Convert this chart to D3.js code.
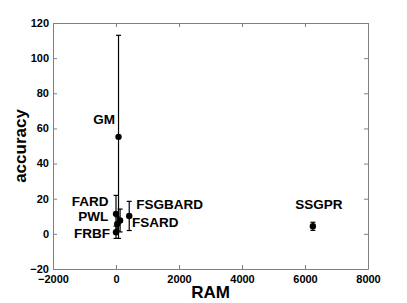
<!DOCTYPE html>
<html>
<head>
<meta charset="utf-8">
<script src="https://cdn.jsdelivr.net/npm/d3@7"></script>
<style>
  body { margin: 0; background: #fff; }
  text { font-family: "Liberation Sans", Arial, sans-serif; font-weight: bold; fill: #000; }
</style>
</head>
<body>
<div id="chart"></div>
<script>
// values
const methods  = ["GM", "FARD", "PWL", "FRBF", "FSGBARD", "FSARD", "SSGPR"];
const ram      = [80, 0, 40, 0, 420, 130, 6250];
const accuracy = [55.2, 11.4, 5.7, 0.9, 10.2, 7.6, 4.3];
const errBar   = [57.8, 10.5, 4, 3.5, 8.3, 6.5, 2.3];

const xTicks = [-2000, 0, 2000, 4000, 6000, 8000];
const yTicks = [-20, 0, 20, 40, 60, 80, 100, 120];

// label placement (pixels relative to the point)
const labelPos = {
  GM:      { dx: -3.5, dy: -18, anchor: "end" },
  FARD:    { dx: -7.5, dy: -13, anchor: "end" },
  PWL:     { dx: -9,   dy: -8,  anchor: "end" },
  FRBF:    { dx: -6,   dy: 1,   anchor: "end" },
  FSGBARD: { dx: 7,    dy: -12, anchor: "start" },
  FSARD:   { dx: 12,   dy: 2,   anchor: "start" },
  SSGPR:   { dx: 6,    dy: -22, anchor: "middle" }
};

const data = methods.map((m, i) => ({ name: m, ram: ram[i], acc: accuracy[i], err: errBar[i] }));

const width = 407, height = 303;
const margin = { top: 23, right: 39, bottom: 34, left: 53 };

const svg = d3.select("#chart").append("svg")
    .attr("width", width)
    .attr("height", height);

const x = d3.scaleLinear().domain([-2000, 8000]).range([margin.left, width - margin.right]);
const y = d3.scaleLinear().domain([-20, 120]).range([height - margin.bottom, margin.top]);

const axisColor = "#808080";
const tick = 4;

// bottom + top axes, ticks pointing inward (matlab box)
const xb = svg.append("g")
    .attr("transform", `translate(0,${y(-20)})`)
    .call(d3.axisBottom(x).tickValues(xTicks).tickSize(-tick).tickSizeOuter(0).tickPadding(5).tickFormat(d3.format("d")));
const xt = svg.append("g")
    .attr("transform", `translate(0,${y(120)})`)
    .call(d3.axisTop(x).tickValues(xTicks).tickSize(-tick).tickSizeOuter(0).tickFormat(""));
const yl = svg.append("g")
    .attr("transform", `translate(${x(-2000)},0)`)
    .call(d3.axisLeft(y).tickValues(yTicks).tickSize(-tick).tickSizeOuter(0).tickPadding(4).tickFormat(d3.format("d")));
const yr = svg.append("g")
    .attr("transform", `translate(${x(8000)},0)`)
    .call(d3.axisRight(y).tickValues(yTicks).tickSize(-tick).tickSizeOuter(0).tickFormat(""));

[xb, xt, yl, yr].forEach(g => {
  g.selectAll("path, line").attr("stroke", axisColor);
  g.selectAll("text").style("font-size", "11px").attr("fill", "#000").style("font-weight", "bold");
});
yl.selectAll(".tick text").attr("dy", "0.3em");
xb.selectAll(".tick text").attr("dy", "0.78em");

// error bars
const cap = 2.5;
const bars = svg.append("g").attr("stroke", "#000").attr("stroke-width", 1.2);
bars.selectAll(".eb").data(data).join("line")
    .attr("x1", d => x(d.ram)).attr("x2", d => x(d.ram))
    .attr("y1", d => y(d.acc - d.err)).attr("y2", d => y(d.acc + d.err));
bars.selectAll(".capTop").data(data).join("line")
    .attr("x1", d => x(d.ram) - cap).attr("x2", d => x(d.ram) + cap)
    .attr("y1", d => y(d.acc + d.err)).attr("y2", d => y(d.acc + d.err));
bars.selectAll(".capBot").data(data).join("line")
    .attr("x1", d => x(d.ram) - cap).attr("x2", d => x(d.ram) + cap)
    .attr("y1", d => y(d.acc - d.err)).attr("y2", d => y(d.acc - d.err));

// points
svg.append("g").selectAll("circle").data(data).join("circle")
    .attr("cx", d => x(d.ram))
    .attr("cy", d => y(d.acc))
    .attr("r", 3.2)
    .attr("fill", "#000");

// point labels
svg.append("g").selectAll("text").data(data).join("text")
    .attr("x", d => x(d.ram) + labelPos[d.name].dx)
    .attr("y", d => y(d.acc) + labelPos[d.name].dy)
    .attr("dy", "0.36em")
    .attr("text-anchor", d => labelPos[d.name].anchor)
    .style("font-size", "13.5px")
    .text(d => d.name);

// axis titles
svg.append("text")
    .attr("x", (x(-2000) + x(8000)) / 2)
    .attr("y", 298)
    .attr("text-anchor", "middle")
    .style("font-size", "17px")
    .text("RAM");

svg.append("text")
    .attr("transform", `translate(26,${(y(-20) + y(120)) / 2}) rotate(-90)`)
    .attr("text-anchor", "middle")
    .style("font-size", "17px")
    .text("accuracy");
</script>
</body>
</html>
